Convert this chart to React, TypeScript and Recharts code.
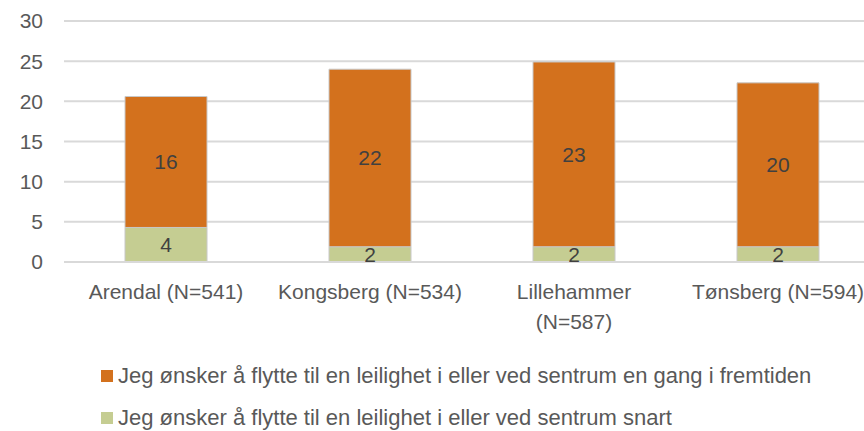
import React from 'react';
import { BarChart, Bar, XAxis, YAxis, CartesianGrid, Legend, LabelList } from 'recharts';

const categories = ['Arendal (N=541)', 'Kongsberg (N=534)', 'Lillehammer\n(N=587)', 'Tønsberg (N=594)'];
const snartValues = [4.3, 1.9, 1.9, 1.9];
const fremtidValues = [16.3, 22.1, 23.0, 20.4];
const yTicks = [0, 5, 10, 15, 20, 25, 30];

const snartName = 'Jeg ønsker å flytte til en leilighet i eller ved sentrum snart';
const fremtidName = 'Jeg ønsker å flytte til en leilighet i eller ved sentrum en gang i fremtiden';

const ORANGE = '#D3711D';
const GREEN = '#C5CD92';
const TEXT = '#595959';
const FONT = '"Liberation Sans", Arial, sans-serif';

const data = categories.map((name, i) => ({
  name,
  snart: snartValues[i],
  fremtid: fremtidValues[i],
}));

const CategoryTick = (props: any) => {
  const { x, y, payload } = props;
  const lines = String(payload.value).split('\n');
  return (
    <text x={x} y={y} textAnchor="middle" fill={TEXT} fontSize={21} fontFamily={FONT}>
      {lines.map((line, i) => (
        <tspan key={i} x={x} dy={i === 0 ? 29 : 30}>
          {line}
        </tspan>
      ))}
    </text>
  );
};

const LegendContent = () => {
  const items = [
    { name: fremtidName, color: ORANGE },
    { name: snartName, color: GREEN },
  ];
  return (
    <div style={{ paddingLeft: 101, paddingTop: 27, fontFamily: FONT, fontSize: 22, color: TEXT }}>
      {items.map((it) => (
        <div key={it.name} style={{ display: 'flex', alignItems: 'center', height: 24, marginBottom: 18, whiteSpace: 'nowrap' }}>
          <span style={{ width: 12, height: 12, background: it.color, display: 'inline-block', marginRight: 5 }} />
          <span>{it.name}</span>
        </div>
      ))}
    </div>
  );
};

const App = () => {
  return (
    <div style={{ position: 'absolute', left: 0, top: 0, width: 864, height: 431, overflow: 'hidden', background: '#fff' }}>
      <BarChart
        width={900}
        height={431}
        data={data}
        margin={{ top: 21, right: 20, left: 0, bottom: 0 }}
        barSize={82}
      >
        <CartesianGrid vertical={false} stroke="#d9d9d9" strokeWidth={2} />
        <XAxis
          dataKey="name"
          height={75}
          axisLine={{ stroke: '#d9d9d9', strokeWidth: 2 }}
          tickLine={false}
          interval={0}
          tick={<CategoryTick />}
        />
        <YAxis
          width={64}
          domain={[0, 30]}
          ticks={yTicks}
          axisLine={false}
          tickLine={false}
          tickSize={0}
          tickMargin={21}
          tick={{ fill: TEXT, fontSize: 21, fontFamily: FONT }}
        />
        <Legend verticalAlign="bottom" height={94} content={<LegendContent />} />
        <Bar dataKey="snart" name={snartName} stackId="a" fill={GREEN} stroke="#c8c8c8" strokeWidth={1} isAnimationActive={false}>
          <LabelList dataKey="snart" position="center" fill="#404040" fontSize={21} fontFamily={FONT} formatter={(v: any) => Math.round(Number(v))} />
        </Bar>
        <Bar dataKey="fremtid" name={fremtidName} stackId="a" fill={ORANGE} stroke="#c8c8c8" strokeWidth={1} isAnimationActive={false}>
          <LabelList dataKey="fremtid" position="center" fill="#404040" fontSize={21} fontFamily={FONT} formatter={(v: any) => Math.round(Number(v))} />
        </Bar>
      </BarChart>
    </div>
  );
};

export default App;
